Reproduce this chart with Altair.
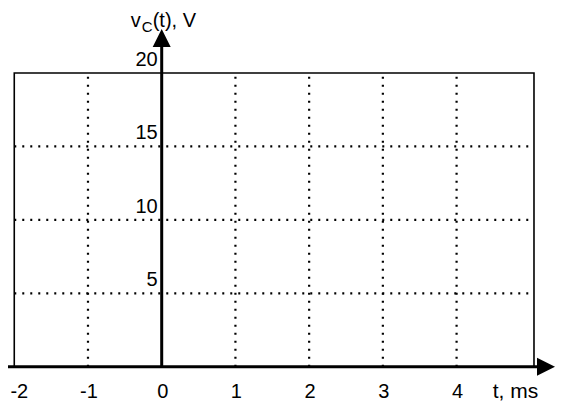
import altair as alt
import pandas as pd

# ---- data ----
x_ticks = [-2, -1, 0, 1, 2, 3, 4]
x_tick_labels = ["-2", "-1", "0", "1", "2", "3", "4"]
y_ticks = [5, 10, 15, 20]
y_tick_labels = ["5", "10", "15", "20"]
x_grid = [-1, 1, 2, 3, 4]
y_grid = [5, 10, 15]
box_x = [-2, 5.05]
box_y = [0, 20]
x_axis_end = 5.1
y_axis_end = 21.9
x_arrow_at = 5.213
y_arrow_at = 22.39
x_title = "t, ms"
x_title_at = 4.49
y_title_parts = ["v", "C", "(t), V"]
y_title_at = 23.34

X_DOMAIN = [-2.085, 5.335]
Y_DOMAIN = [-2.337, 24.43]

FONT = "Liberation Sans"
xs = alt.Scale(domain=X_DOMAIN, nice=False, zero=False)
ys = alt.Scale(domain=Y_DOMAIN, nice=False, zero=False)


def X(f):
    return alt.X(f, type="quantitative", scale=xs, axis=None)


def Y(f):
    return alt.Y(f, type="quantitative", scale=ys, axis=None)


grid_v = alt.Chart(pd.DataFrame({"x": x_grid, "y0": box_y[0], "y1": box_y[1]})).mark_rule(
    strokeDash=[2, 6], strokeWidth=2.2, color="black"
).encode(x=X("x"), y=Y("y0"), y2="y1")

grid_h = alt.Chart(pd.DataFrame({"y": y_grid, "x0": box_x[0], "x1": box_x[1]})).mark_rule(
    strokeDash=[2, 6], strokeWidth=2.2, color="black"
).encode(y=Y("y"), x=X("x0"), x2="x1")

box = alt.Chart(pd.DataFrame({"x0": [box_x[0]], "x1": [box_x[1]], "y0": [box_y[0]], "y1": [box_y[1]]})).mark_rect(
    fillOpacity=0, stroke="black", strokeWidth=1.6
).encode(x=X("x0"), x2="x1", y=Y("y0"), y2="y1")

x_axis = alt.Chart(pd.DataFrame({"x0": [X_DOMAIN[0]], "x1": [x_axis_end], "y": [0]})).mark_rule(
    strokeWidth=3, color="black"
).encode(x=X("x0"), x2="x1", y=Y("y"))

y_axis = alt.Chart(pd.DataFrame({"x": [0], "y0": [0], "y1": [y_axis_end]})).mark_rule(
    strokeWidth=3, color="black"
).encode(x=X("x"), y=Y("y0"), y2="y1")

arrow_up = alt.Chart(pd.DataFrame({"x": [0], "y": [y_arrow_at]})).mark_point(
    shape="M0,-1L1,1L-1,1Z", size=324, filled=True, color="black", opacity=1, strokeWidth=0
).encode(x=X("x"), y=Y("y"))

arrow_right = alt.Chart(pd.DataFrame({"x": [x_arrow_at], "y": [0]})).mark_point(
    shape="M1,0L-1,-1L-1,1Z", size=324, filled=True, color="black", opacity=1, strokeWidth=0
).encode(x=X("x"), y=Y("y"))

xl_df = pd.DataFrame({"x": x_ticks, "y": 0, "t": x_tick_labels})
x_labels_first = alt.Chart(xl_df.iloc[:1]).mark_text(
    font=FONT, fontSize=20, align="center", baseline="alphabetic", dx=5, dy=31, color="black"
).encode(x=X("x"), y=Y("y"), text="t:N")
x_labels_rest = alt.Chart(xl_df.iloc[1:]).mark_text(
    font=FONT, fontSize=20, align="center", baseline="alphabetic", dx=1, dy=31, color="black"
).encode(x=X("x"), y=Y("y"), text="t:N")

y_labels = alt.Chart(pd.DataFrame({"x": 0, "y": y_ticks, "t": y_tick_labels})).mark_text(
    font=FONT, fontSize=20, align="right", baseline="alphabetic", dx=-4, dy=-7, color="black"
).encode(x=X("x"), y=Y("y"), text="t:N")

x_title_mark = alt.Chart(pd.DataFrame({"x": [x_title_at], "y": [0], "t": [x_title]})).mark_text(
    font=FONT, fontSize=21, align="left", baseline="alphabetic", dy=31, color="black"
).encode(x=X("x"), y=Y("y"), text="t:N")

yt_v = alt.Chart(pd.DataFrame({"x": [0], "y": [y_title_at], "t": [y_title_parts[0]]})).mark_text(
    font=FONT, fontSize=20, align="left", baseline="alphabetic", dx=-31, dy=3, color="black"
).encode(x=X("x"), y=Y("y"), text="t:N")

yt_c = alt.Chart(pd.DataFrame({"x": [0], "y": [y_title_at], "t": [y_title_parts[1]]})).mark_text(
    font=FONT, fontSize=15, align="left", baseline="alphabetic", dx=-20, dy=8, color="black"
).encode(x=X("x"), y=Y("y"), text="t:N")

yt_rest = alt.Chart(pd.DataFrame({"x": [0], "y": [y_title_at], "t": [y_title_parts[2]]})).mark_text(
    font=FONT, fontSize=20, align="left", baseline="alphabetic", dx=-9, dy=3, color="black"
).encode(x=X("x"), y=Y("y"), text="t:N")

chart = alt.layer(
    grid_v, grid_h, box, x_axis, y_axis, arrow_up, arrow_right,
    x_labels_first, x_labels_rest, y_labels, x_title_mark, yt_v, yt_c, yt_rest
).properties(
    width=547, height=393,
    autosize=alt.AutoSizeParams(type="none"),
    padding=0,
    background="white",
).configure_view(stroke=None)

chart.save("out.html", embed_options={"renderer": "svg", "actions": False})
